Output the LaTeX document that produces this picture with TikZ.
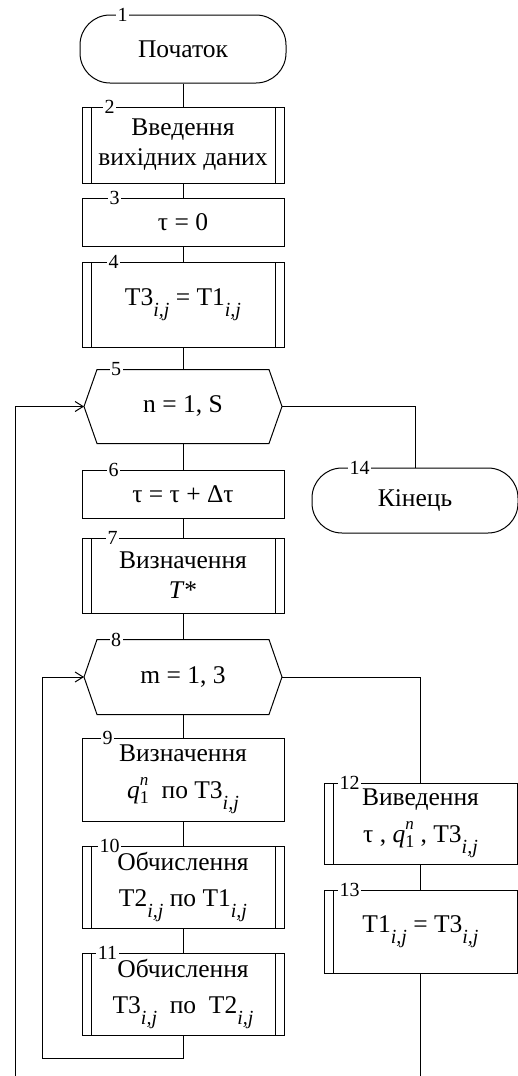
\documentclass[tikz,border=0pt]{standalone}
\usepackage{fontspec}
\setmainfont{Liberation Serif}
\usetikzlibrary{arrows.meta}
\newcommand\ijsub{\raisebox{-0.95ex}{\fontsize{20}{20}\selectfont\itshape i,j}}
\newcommand\qone{\textit{q}\makebox[0pt][l]{\raisebox{1.15ex}{\fontsize{17}{17}\selectfont\itshape n}}\raisebox{-0.4ex}{\fontsize{18}{18}\selectfont 1}}

\begin{document}
\begin{tikzpicture}[x=1pt,y=-1pt, line width=1pt,
    every node/.style={font=\fontsize{25.5}{30}\selectfont, align=center, inner sep=0pt},
    term/.style={draw, rounded corners=30pt, minimum width=206pt},
    proc/.style={draw, minimum width=202pt},
    subproc/.style={proc, path picture={
        \draw ([xshift=9pt]path picture bounding box.north west) -- ([xshift=9pt]path picture bounding box.south west);
        \draw ([xshift=-9pt]path picture bounding box.north east) -- ([xshift=-9pt]path picture bounding box.south east);}},
    subprocl/.style={draw, path picture={
        \draw ([xshift=9pt]path picture bounding box.north west) -- ([xshift=9pt]path picture bounding box.south west);}},
    loopbox/.style={minimum width=197pt, minimum height=73pt},
    num/.style={font=\fontsize{20}{20}\selectfont, fill=white, inner sep=1.5pt},
    >={Straight Barb[length=8pt,width=10pt]}]
    \useasboundingbox (0,0) rectangle (518,1076);

    % main column
    \node[term, minimum height=68pt] (t1) at (183,49) {Початок};
    \node[subproc, minimum height=76pt] (b2) at (183,145) {Введення\\вихідних даних};
    \node[proc, minimum height=48pt] (b3) at (183,222) {τ = 0};
    \node[subproc, minimum height=85pt] (b4) at (183,304.5) {T3\ijsub{} = T1\ijsub};
    \node[loopbox] (l5) at (183,406.5) {n = 1, S};
    \node[proc, minimum height=48pt] (b6) at (183,494) {τ = τ + Δτ};
    \node[subproc, minimum height=75pt] (b7) at (183,575.5) {Визначення\\\textit{T}*};
    \node[loopbox, minimum height=74pt] (l8) at (183,677) {m = 1, 3};
    \node[proc, minimum height=83pt] (b9) at (183,779.5) {Визначення\\[7pt]\qone\ \ по T3\ijsub};
    \node[subproc, minimum height=82pt] (b10) at (183,887) {Обчислення\\[6pt]T2\ijsub{} по T1\ijsub};
    \node[subproc, minimum height=82pt] (b11) at (183,994) {Обчислення\\[6pt]T3\ijsub{}\ \ по\ \ T2\ijsub};

    % right column
    \node[term, minimum height=65pt] (t14) at (415,500.5) {Кінець};
    \node[subprocl, minimum width=193pt, minimum height=81pt] (b12) at (420.5,823.5) {Виведення\\[7pt]τ , \qone\ , T3\ijsub};
    \node[subprocl, minimum width=193pt, minimum height=83pt] (b13) at (420.5,931.5) {T1\ijsub{} = T3\ijsub};

    % loop limits
    \draw (l5.west) -- ([xshift=13pt]l5.north west) -- ([xshift=-13pt]l5.north east) -- (l5.east)
        -- ([xshift=-13pt]l5.south east) -- ([xshift=13pt]l5.south west) -- cycle;
    \draw (l8.west) -- ([xshift=13pt]l8.north west) -- ([xshift=-13pt]l8.north east) -- (l8.east)
        -- ([xshift=-13pt]l8.south east) -- ([xshift=13pt]l8.south west) -- cycle;

    % connectors
    \draw (t1) -- (b2);
    \draw (b2) -- (b3);
    \draw (b3) -- (b4);
    \draw (b4) -- (l5);
    \draw (l5) -- (b6);
    \draw (b6) -- (b7);
    \draw (b7) -- (l8);
    \draw (l8) -- (b9);
    \draw (b9) -- (b10);
    \draw (b10) -- (b11);
    \draw (b12) -- (b13);
    \draw (l5.east) -| (t14.north);
    \draw (l8.east) -| (b12.north);
    \coordinate (e13) at (420.5,1076);
    \draw (b13.south) -- (e13);
    \coordinate (e5) at (15,1076);
    \draw[->] (e5) |- (l5.west);
    \coordinate (c8) at (42,1058);
    \draw[->] (b11.south) |- (c8) |- (l8.west);

    % block numbers
    \node[num] at ([xshift=43pt]t1.north west) {1};
    \node[num] at ([xshift=28pt]b2.north west) {2};
    \node[num] at ([xshift=33pt]b3.north west) {3};
    \node[num] at ([xshift=32pt]b4.north west) {4};
    \node[num] at ([xshift=32pt]l5.north west) {5};
    \node[num] at ([xshift=32pt]b6.north west) {6};
    \node[num] at ([xshift=31pt]b7.north west) {7};
    \node[num] at ([xshift=32pt]l8.north west) {8};
    \node[num] at ([xshift=26pt]b9.north west) {9};
    \node[num] at ([xshift=28pt]b10.north west) {10};
    \node[num] at ([xshift=26pt]b11.north west) {11};
    \node[num] at ([xshift=26pt]b12.north west) {12};
    \node[num] at ([xshift=26pt]b13.north west) {13};
    \node[num] at ([xshift=48pt]t14.north west) {14};
\end{tikzpicture}
\end{document}
